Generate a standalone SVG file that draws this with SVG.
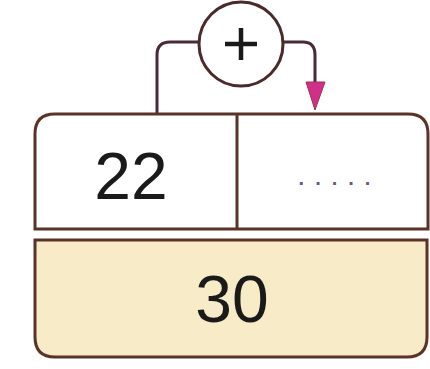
<svg xmlns="http://www.w3.org/2000/svg" width="430" height="369" viewBox="0 0 430 369">
<defs>
<style>
.box{stroke:#5a3228;stroke-width:3;}
.num{font-family:"Liberation Sans",Arial,sans-serif;font-size:66px;fill:#1a1a1a;text-anchor:middle;}
.conn{fill:none;stroke:#4a2a3a;stroke-width:3;}
</style>
</defs>
<rect width="430" height="369" fill="#ffffff"/>
<g id="connectors">
<path class="conn" d="M198,42 H170 Q157,42 157,55 V115"/>
<path class="conn" d="M284,42 H303 Q315,42 315,55 V82"/>
<path d="M306,82 L325,82 L315,110 Z" fill="#d0308a" stroke="#a03050" stroke-width="1"/>
</g>
<g id="plus">
<circle cx="241" cy="44" r="42" fill="#ffffff" stroke="#4a2a2a" stroke-width="3"/>
<path d="M225,44 H257 M241,28 V60" stroke="#1a1a1a" stroke-width="4.5"/>
</g>
<g id="top-box">
<path class="box" fill="#ffffff" d="M55,114 H408 Q428,114 428,134 V229 H35 V134 Q35,114 55,114 Z"/>
<line class="box" x1="237" y1="114" x2="237" y2="229"/>
<text class="num" x="131" y="199">22</text>
<text x="340" y="185" font-family="Liberation Sans,Arial,sans-serif" font-size="20" font-weight="bold" fill="#6a5a7a" text-anchor="middle" letter-spacing="11">.....</text>
</g>
<g id="bottom-box">
<path class="box" fill="#f8ebc8" d="M35,240 H427 V337 Q427,357 407,357 H55 Q35,357 35,337 Z"/>
<text class="num" x="232" y="322">30</text>
</g>
</svg>
